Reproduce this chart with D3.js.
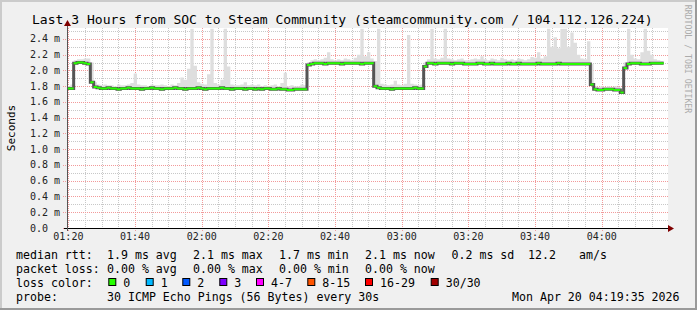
<!DOCTYPE html>
<html>
<head>
<meta charset="utf-8">
<script src="https://cdn.jsdelivr.net/npm/d3@7"></script>
<style>
body { margin: 0; background: #fff; }
svg text { font-family: "DejaVu Sans Mono", monospace; white-space: pre; }
</style>
</head>
<body>
<svg width="697" height="310"></svg>
<script>
// SmokePing style latency graph: last 3 hours, steamcommunity.com

var title = "Last 3 Hours from SOC to Steam Community (steamcommunity.com / 104.112.126.224)";
var timeStart = new Date(2026, 3, 20, 1, 19, 35);
var timeEnd = new Date(2026, 3, 20, 4, 19, 35);
var stepMinutes = 1;

// median rtt per minute (ms)
var median = [
	1.77, 1.77,
	2.09, 2.10, 2.10, 2.09, 2.08,
	1.85, 1.79,
	1.78, 1.77, 1.77, 1.78, 1.77, 1.77, 1.76, 1.77, 1.77, 1.78, 1.77, 1.77,
	1.77, 1.76, 1.77, 1.77, 1.78, 1.77, 1.77, 1.76, 1.77, 1.77, 1.77, 1.78,
	1.77, 1.77, 1.76, 1.77, 1.77, 1.77, 1.78, 1.77, 1.76, 1.77, 1.77, 1.77,
	1.77, 1.78, 1.77, 1.77, 1.76, 1.77, 1.77, 1.77, 1.76, 1.77, 1.77, 1.76,
	1.77, 1.76, 1.77, 1.77, 1.76, 1.76, 1.77, 1.76, 1.76, 1.75, 1.75, 1.76, 1.76, 1.76, 1.76,
	2.07,
	2.08, 2.09, 2.09, 2.09, 2.08, 2.09, 2.09, 2.09, 2.09, 2.08, 2.09, 2.09, 2.09, 2.09, 2.09, 2.08, 2.09, 2.09, 2.09,
	1.80,
	1.78, 1.77, 1.77, 1.77, 1.76, 1.77, 1.77, 1.77, 1.77, 1.77, 1.77, 1.78, 1.77, 1.77,
	2.05,
	2.09, 2.09, 2.08, 2.09, 2.09, 2.09, 2.09, 2.08, 2.09, 2.09, 2.09, 2.08,
	2.08, 2.08, 2.08, 2.09, 2.09, 2.08, 2.08, 2.09, 2.08, 2.08, 2.08, 2.08,
	2.09, 2.08, 2.08, 2.09, 2.08, 2.08, 2.08, 2.08, 2.08, 2.09, 2.08, 2.08,
	2.08, 2.08, 2.08, 2.09, 2.08, 2.08, 2.08, 2.08, 2.08, 2.08, 2.08, 2.08, 2.08,
	1.82, 1.76,
	1.75, 1.75, 1.76, 1.76, 1.76, 1.75, 1.75, 1.72,
	2.03,
	2.08, 2.09, 2.09, 2.09, 2.08, 2.08, 2.08, 2.09, 2.09, 2.09, 2.09
];

// highest ping per minute (ms), top of the smoke
var pingMax = [
	1.80, 1.82,
	2.13, 2.14, 2.14, 2.15, 2.15,
	2.10, 1.85,
	1.82, 1.81, 1.82, 1.81, 1.81, 1.80, 1.82, 1.81, 1.81, 1.82, 1.84, 1.96,
	1.82, 1.81, 1.81, 1.80, 1.82, 1.81, 1.81, 1.82, 1.81, 1.80, 1.82, 1.81,
	1.84, 1.91, 1.88, 2.02, 2.53, 2.06, 1.85, 1.83, 1.82, 1.95, 2.53, 1.84,
	1.82, 1.88, 2.53, 2.05, 1.82, 1.81, 1.81, 1.82, 1.85, 1.81, 1.82, 1.81,
	1.82, 1.80, 1.81, 1.80, 1.81, 1.82, 1.80, 1.84, 1.97, 1.80, 1.81, 1.80, 1.80, 1.82, 1.81,
	2.10,
	2.13, 2.14, 2.13, 2.14, 2.16, 2.23, 2.14, 2.13, 2.14, 2.13, 2.15, 2.14, 2.13, 2.16, 2.20, 2.53, 2.18, 2.23, 2.15,
	2.12,
	2.53, 1.83, 1.82, 1.81, 1.82, 1.87, 1.82, 1.81, 1.83, 2.45, 1.83, 1.82, 1.81, 1.82,
	2.10,
	2.14, 2.53, 2.15, 2.14, 2.16, 2.53, 2.15, 2.14, 2.13, 2.14, 2.15, 2.13,
	2.13, 2.14, 2.15, 2.14, 2.18, 2.14, 2.13, 2.15, 2.14, 2.13, 2.16, 2.14,
	2.13, 2.14, 2.13, 2.15, 2.14, 2.13, 2.14, 2.17, 2.16, 2.23, 2.15, 2.18,
	2.53, 2.30, 2.42, 2.28, 2.53, 2.53, 2.30, 2.48, 2.35, 2.20, 2.15, 2.14, 2.37,
	2.08, 1.80,
	1.79, 1.80, 1.79, 1.80, 1.79, 1.80, 1.79, 1.77,
	2.10,
	2.53, 2.20, 2.15, 2.14, 2.23, 2.53, 2.25, 2.20, 2.14, 2.13, 2.12
];

var statsRtt = ["median rtt:", "1.9 ms avg", "2.1 ms max", "1.7 ms min", "2.1 ms now", "0.2 ms sd", "12.2", "am/s"];
var statsLoss = ["packet loss:", "0.00 % avg", "0.00 % max", "0.00 % min", "0.00 % now"];
var lossLabels = ["0", "1", "2", "3", "4-7", "8-15", "16-29", "30/30"];
var lossColors = ["#26ff00", "#00b8ff", "#0059ff", "#7e00ff", "#ff00ff", "#ff5500", "#ff0000", "#a10000"];
var probeText = ["probe:", "30 ICMP Echo Pings (56 Bytes) every 30s", "Mon Apr 20 04:19:35 2026"];

function draw(){
	var svg = d3.select("svg");
	var W = 697, H = 310;
	var left = 67, right = 667, top = 28, bottom = 228;

	// frame
	svg.append("rect").attr("width", W).attr("height", H).attr("fill", "#f0f0f0");
	svg.append("path").attr("d", "M1,"+H+"V1H"+W).attr("fill", "none").attr("stroke", "#cbcbcb").attr("stroke-width", 2);
	svg.append("path").attr("d", "M0,"+(H-1)+"H"+(W-1)+"V0").attr("fill", "none").attr("stroke", "#9a9a9a").attr("stroke-width", 2);
	svg.append("rect").attr("x", left).attr("y", top).attr("width", right - left + 1).attr("height", bottom - top)
		.attr("fill", "#ffffff");

	var x = d3.scaleTime().domain([timeStart, timeEnd]).range([left, right]);
	var y = d3.scaleLinear().domain([0, 2.538]).range([bottom, top]);

	// grid
	var grid = svg.append("g").attr("shape-rendering", "crispEdges");
	var minorX = x.ticks(d3.timeMinute.every(5));
	var majorX = x.ticks(d3.timeMinute.every(20));
	grid.selectAll(".vmin").data(minorX).enter().append("line")
		.attr("x1", d => Math.round(x(d)) + 0.5).attr("x2", d => Math.round(x(d)) + 0.5)
		.attr("y1", top).attr("y2", bottom)
		.attr("stroke", "#c8c8c8").attr("stroke-dasharray", "1,1");
	grid.selectAll(".hmin").data(y.ticks(26)).enter().append("line")
		.attr("x1", left).attr("x2", right + 1)
		.attr("y1", d => Math.round(y(d)) + 0.5).attr("y2", d => Math.round(y(d)) + 0.5)
		.attr("stroke", "#c8c8c8").attr("stroke-dasharray", "1,1");
	grid.selectAll(".vmaj").data(majorX).enter().append("line")
		.attr("x1", d => Math.round(x(d)) + 0.5).attr("x2", d => Math.round(x(d)) + 0.5)
		.attr("y1", top).attr("y2", bottom + 3)
		.attr("stroke", "#f29a9a").attr("stroke-dasharray", "1,1");
	grid.selectAll(".hmaj").data(y.ticks(13)).enter().append("line")
		.attr("x1", left - 4).attr("x2", right + 1)
		.attr("y1", d => Math.round(y(d)) + 0.5).attr("y2", d => Math.round(y(d)) + 0.5)
		.attr("stroke", "#f29a9a").attr("stroke-dasharray", "1,1");

	// data points, step-after, with a closing point
	var pts = median.map((v, i) => ({t: d3.timeMinute.offset(timeStart, i * stepMinutes), v: v, hi: pingMax[i]}));
	var last = pts[pts.length - 1];
	var ptsEnd = pts.concat([{t: d3.timeMinute.offset(timeStart, pts.length * stepMinutes), v: last.v, hi: last.hi}]);

	svg.append("clipPath").attr("id", "plot").append("rect")
		.attr("x", left).attr("y", top).attr("width", right - left + 1).attr("height", bottom - top);
	var plot = svg.append("g").attr("clip-path", "url(#plot)");

	// smoke
	plot.append("path").datum(ptsEnd)
		.attr("d", d3.area().curve(d3.curveStepAfter).x(d => x(d.t)).y0(d => y(d.v)).y1(d => y(d.hi)))
		.attr("fill", "#dedede");
	plot.append("path").datum(ptsEnd)
		.attr("d", d3.line().curve(d3.curveStepAfter).x(d => x(d.t)).y(d => y(d.v)))
		.attr("fill", "none").attr("stroke", "#555").attr("stroke-width", 3);

	// median in loss colour (all points 0 loss)
	var seg = "";
	pts.forEach((d, i) => {
		var x0 = x(d.t), x1 = x(ptsEnd[i + 1].t);
		seg += "M" + x0 + "," + y(d.v) + "H" + x1;
	});
	plot.append("path").attr("d", seg).attr("fill", "none")
		.attr("stroke", lossColors[0]).attr("stroke-width", 2);

	// axes
	svg.append("line").attr("x1", left - 3).attr("x2", right + 2).attr("y1", bottom + 0.5).attr("y2", bottom + 0.5)
		.attr("stroke", "#000").attr("stroke-width", 1);
	svg.append("path").attr("d", "M" + (right + 1) + "," + (bottom - 3) + "l6,3.5l-6,3.5z").attr("fill", "#7f0000");
	svg.append("line").attr("x1", left + 0.5).attr("x2", left + 0.5).attr("y1", bottom + 3).attr("y2", top - 3)
		.attr("stroke", "#555").attr("stroke-width", 1);
	svg.append("path").attr("d", "M" + (left - 3) + "," + (top - 2) + "l3.5,-6l3.5,6z").attr("fill", "#7f0000");

	// tick labels
	svg.append("g").selectAll("text").data(y.ticks(13)).enter().append("text")
		.attr("x", 30).attr("y", d => y(d) + 3.5)
		.attr("font-size", 10).attr("fill", "#222")
		.text(d => d === 0 ? "0.0" : d3.format(".1f")(d) + " m");
	svg.append("g").selectAll("text").data(majorX).enter().append("text")
		.attr("x", d => x(d)).attr("y", 240)
		.attr("text-anchor", "middle").attr("font-size", 10).attr("fill", "#222")
		.text(d3.timeFormat("%H:%M"));

	// titles
	svg.append("text").attr("x", 32).attr("y", 24).attr("font-size", 13.05).attr("fill", "#000").text(title);
	svg.append("text").attr("transform", "translate(14.5,128) rotate(-90)").attr("text-anchor", "middle")
		.attr("font-size", 11).attr("fill", "#000").text("Seconds");
	svg.append("text").attr("transform", "translate(685,59) rotate(90)").attr("text-anchor", "middle")
		.attr("font-size", 8.2).attr("fill", "#ababab").text("RRDTOOL / TOBI OETIKER");

	// legend
	var fs = 11.6;
	var rttX = [16, 107, 193, 279, 365, 451.5, 528, 579];
	var lossX = [16, 107, 193, 279, 365];
	svg.append("g").selectAll("text").data(statsRtt).enter().append("text")
		.attr("x", (d, i) => rttX[i]).attr("y", 258.5).attr("font-size", fs).text(d => d);
	svg.append("g").selectAll("text").data(statsLoss).enter().append("text")
		.attr("x", (d, i) => lossX[i]).attr("y", 272.5).attr("font-size", fs).text(d => d);

	svg.append("text").attr("x", 16).attr("y", 286.5).attr("font-size", fs).text("loss color:");
	var boxX = [108.3, 145.7, 182.3, 219.3, 256, 307.3, 365, 430.7];
	var items = svg.append("g").selectAll("g").data(lossLabels).enter().append("g")
		.attr("transform", (d, i) => "translate(" + boxX[i] + ",0)");
	items.append("rect").attr("x", 0.5).attr("y", 278.5).attr("width", 7).attr("height", 7)
		.attr("fill", (d, i) => lossColors[i]).attr("stroke", "#000").attr("stroke-width", 1);
	items.append("text").attr("x", 15).attr("y", 286.5).attr("font-size", fs).text(d => d);

	var probeX = [16, 107, 512];
	svg.append("g").selectAll("text").data(probeText).enter().append("text")
		.attr("x", (d, i) => probeX[i]).attr("y", 300.5).attr("font-size", fs).text(d => d);
}

draw();
</script>
</body>
</html>
